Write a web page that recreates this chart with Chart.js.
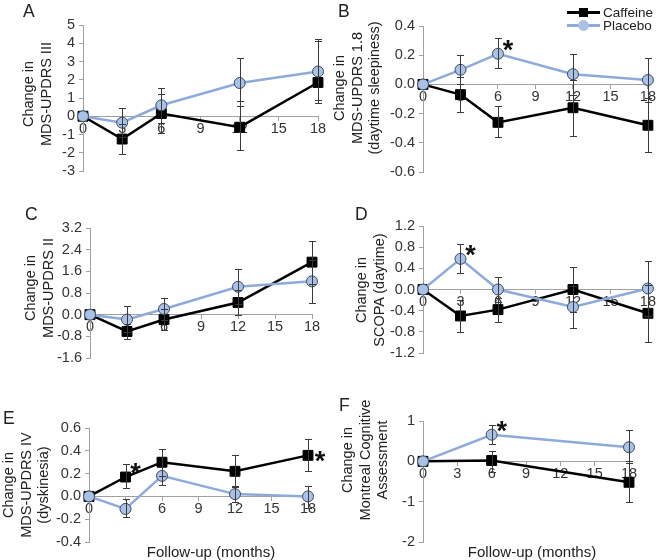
<!DOCTYPE html>
<html>
<head>
<meta charset="utf-8">
<script src="https://cdn.jsdelivr.net/npm/chart.js@4.4.0/dist/chart.umd.min.js"></script>
<style>
  body { margin: 0; background: #fff; }
  #fig { position: relative; width: 656px; height: 560px; font-family: "Liberation Sans", Arial, sans-serif; color: #222; }
  #fig canvas { position: absolute; }
  .lbl { position: absolute; font-size: 17.5px; line-height: 17px; }
  .ytitle { position: absolute; font-size: 14.5px; line-height: 17.5px; text-align: center; white-space: nowrap;
            transform: translate(-50%, -50%) rotate(-90deg); }
  .xtitle { position: absolute; font-size: 15px; white-space: nowrap; transform: translate(-50%, -50%); }
  .legend { position: absolute; left: 567px; top: 6px; font-size: 13.5px; }
  .row { position: relative; height: 13px; }
  .row .ln { position: absolute; left: 0; top: 5px; width: 33px; height: 2.5px; }
  .row .mk { position: absolute; }
  .row span { position: absolute; left: 36px; top: -1px; white-space: nowrap; }
</style>
</head>
<body>
<div id="fig">
  <canvas id="cA"></canvas><canvas id="cB"></canvas>
  <canvas id="cC"></canvas><canvas id="cD"></canvas>
  <canvas id="cE"></canvas><canvas id="cF"></canvas>

  <div class="lbl" style="left:23px;top:3px">A</div>
  <div class="lbl" style="left:338px;top:3px">B</div>
  <div class="lbl" style="left:25px;top:206px">C</div>
  <div class="lbl" style="left:355px;top:206px">D</div>
  <div class="lbl" style="left:3px;top:410px">E</div>
  <div class="lbl" style="left:339px;top:397px">F</div>

  <div class="ytitle" style="left:36.5px;top:94px">Change in<br>MDS-UPDRS III</div>
  <div class="ytitle" style="left:357px;top:88px">Change in<br>MDS-UPDRS 1.8<br>(daytime sleepiness)</div>
  <div class="ytitle" style="left:38.5px;top:288px">Change in<br>MDS-UPDRS II</div>
  <div class="ytitle" style="left:370px;top:290px">Change in<br>SCOPA (daytime)</div>
  <div class="ytitle" style="left:25.5px;top:485px">Change in<br>MDS-UPDRS IV<br>(dyskinesia)</div>
  <div class="ytitle" style="left:364.5px;top:460px">Change in<br>Montreal Cognitive<br>Assessment</div>

  <div class="xtitle" style="left:211px;top:551px">Follow-up (months)</div>
  <div class="xtitle" style="left:532px;top:551px">Follow-up (months)</div>

  <div class="legend">
    <div class="row"><div class="ln" style="background:#000"></div>
      <div class="mk" style="left:12px;top:2px;width:9px;height:9px;background:#000"></div><span>Caffeine</span></div>
    <div class="row"><div class="ln" style="background:#8eaadb"></div>
      <div class="mk" style="left:11px;top:1px;width:9px;height:9px;border-radius:50%;background:#a9c1e4;border:1px solid #a9c1e4"></div><span>Placebo</span></div>
  </div>
</div>

<script>
// follow-up visits
const months = [0, 3, 6, 12, 18];
const monthsF = [0, 6, 18];

// A: MDS-UPDRS III
const cafA = [0, -1.25, 0.15, -0.6, 1.85];
const cafLoA = [0, -2.05, -0.9, -1.87, 0.9];
const cafHiA = [0, -0.45, 1.2, 0.81, 4.1];
const plaA = [0, -0.35, 0.6, 1.82, 2.45];
const plaLoA = [0, -1.15, -0.35, 0.54, 0.75];
const plaHiA = [0, 0.45, 1.55, 3.18, 4.25];

// B: MDS-UPDRS 1.8 (daytime sleepiness)
const cafB = [0, -0.07, -0.26, -0.16, -0.28];
const cafLoB = [0, -0.19, -0.36, -0.35, -0.46];
const cafHiB = [0, 0.05, -0.15, 0.03, -0.09];
const plaB = [0, 0.10, 0.21, 0.07, 0.03];
const plaLoB = [0, 0.0, 0.11, -0.07, -0.12];
const plaHiB = [0, 0.20, 0.32, 0.21, 0.18];

// C: MDS-UPDRS II
const cafC = [0, -0.62, -0.18, 0.45, 1.94];
const cafLoC = [0, -0.88, -0.55, 0.0, 1.15];
const cafHiC = [0, -0.35, 0.2, 0.9, 2.73];
const plaC = [0, -0.18, 0.21, 1.03, 1.23];
const plaLoC = [0, -0.65, -0.2, 0.38, 0.43];
const plaHiC = [0, 0.31, 0.62, 1.69, 2.03];

// D: SCOPA (daytime)
const cafD = [0, -0.5, -0.38, 0.0, -0.45];
const cafLoD = [0, -0.81, -0.61, -0.42, -0.99];
const cafHiD = [0, -0.2, -0.16, 0.42, 0.09];
const plaD = [0, 0.58, 0.0, -0.33, 0.02];
const plaLoD = [0, 0.32, -0.23, -0.72, -0.5];
const plaHiD = [0, 0.86, 0.23, 0.06, 0.54];

// E: MDS-UPDRS IV (dyskinesia)
const cafE = [0, 0.17, 0.30, 0.22, 0.36];
const cafLoE = [0, 0.07, 0.18, 0.08, 0.22];
const cafHiE = [0, 0.28, 0.42, 0.36, 0.50];
const plaE = [0, -0.11, 0.18, 0.02, 0.0];
const plaLoE = [0, -0.18, 0.10, -0.05, -0.10];
const plaHiE = [0, -0.02, 0.26, 0.09, 0.09];

// F: Montreal Cognitive Assessment
const cafF = [0, 0.02, -0.52];
const cafLoF = [0, -0.27, -1.02];
const cafHiF = [0, 0.25, 0.0];
const plaF = [0, 0.66, 0.35];
const plaLoF = [0, 0.42, -0.05];
const plaHiF = [0, 0.89, 0.77];

// significance marks (at which point, star above-right or to the right)
const starsB = [{ x: 6, y: 0.21, at: 'above' }];
const starsD = [{ x: 3, y: 0.58, at: 'above' }];
const starsE = [{ x: 3, y: 0.17, at: 'above' }, { x: 18, y: 0.36, at: 'right' }];
const starsF = [{ x: 6, y: 0.66, at: 'above' }];

const FONT = '"Liberation Sans", Arial, sans-serif';
const AXIS = '#a0a0a0';
const TICK_FONT = { family: FONT, size: 14.5 };

// error bars drawn from dataset.errLo / errHi
const errorBars = {
  id: 'errorBars',
  afterDatasetsDraw(chart) {
    const { ctx, scales: { x, y } } = chart;
    ctx.save();
    ctx.strokeStyle = '#3a3a3a';
    ctx.lineWidth = 1;
    chart.data.datasets.forEach(ds => {
      ds.data.forEach((p, i) => {
        const lo = ds.errLo[i], hi = ds.errHi[i];
        if (lo === hi) return;
        const px = Math.round(x.getPixelForValue(p.x)) + 0.5;
        const y1 = Math.round(y.getPixelForValue(hi)) + 0.5;
        const y2 = Math.round(y.getPixelForValue(lo)) + 0.5;
        ctx.beginPath();
        ctx.moveTo(px, y1); ctx.lineTo(px, y2);
        ctx.moveTo(px - 3.5, y1); ctx.lineTo(px + 3.5, y1);
        ctx.moveTo(px - 3.5, y2); ctx.lineTo(px + 3.5, y2);
        ctx.stroke();
      });
    });
    ctx.restore();
  }
};

function starMarks(stars) {
  return {
    id: 'stars',
    afterDraw(chart) {
      const { ctx, scales: { x, y } } = chart;
      ctx.save();
      ctx.fillStyle = '#111';
      ctx.font = 'bold 27px ' + FONT;
      ctx.textAlign = 'center';
      ctx.textBaseline = 'alphabetic';
      stars.forEach(s => {
        let px = x.getPixelForValue(s.x), py = y.getPixelForValue(s.y);
        if (s.at === 'above') { px += 10; py -= 10; } else { px += 12; }
        ctx.fillText('*', px, py + 15);
      });
      ctx.restore();
    }
  };
}

function makePanel(id, box, xs, caf, cafLo, cafHi, pla, plaLo, plaHi, ax, stars) {
  const cv = document.getElementById(id);
  cv.width = box.w; cv.height = box.h;
  cv.style.left = box.left + 'px';
  cv.style.top = box.top + 'px';
  const pts = arr => xs.map((x, i) => ({ x: x, y: arr[i] }));
  new Chart(cv, {
    type: 'line',
    data: {
      datasets: [
        {
          label: 'Placebo', data: pts(pla), errLo: plaLo, errHi: plaHi, order: 0,
          borderColor: '#8eaadb', borderWidth: 2.5, pointStyle: 'circle', pointRadius: 5.5,
          pointBackgroundColor: '#a9c1e4', pointBorderColor: '#3c4a66', pointBorderWidth: 1, clip: false
        },
        {
          label: 'Caffeine', data: pts(caf), errLo: cafLo, errHi: cafHi, order: 1,
          borderColor: '#000', borderWidth: 2.5, pointStyle: 'rect', pointRadius: 7,
          pointBackgroundColor: '#000', pointBorderColor: '#000', pointBorderWidth: 1, clip: false
        }
      ]
    },
    options: {
      responsive: false,
      animation: false,
      layout: {
        padding: {
          left: 0,
          top: box.at - box.top,
          right: box.left + box.w - box.ar,
          bottom: box.top + box.h - box.ab
        }
      },
      plugins: { legend: { display: false }, tooltip: { enabled: false } },
      scales: {
        x: {
          type: 'linear', position: { y: 0 }, min: 0, max: 18,
          ticks: { stepSize: 3, autoSkip: false, color: '#333', font: TICK_FONT, padding: 0, maxRotation: 0 },
          grid: { drawOnChartArea: false, drawTicks: true, tickLength: 4, color: AXIS },
          border: { color: AXIS }
        },
        y: {
          type: 'linear', min: ax.min, max: ax.max,
          ticks: {
            stepSize: ax.step, autoSkip: false, color: '#333', font: TICK_FONT, padding: 4,
            callback: v => v.toFixed(ax.dec)
          },
          grid: { drawOnChartArea: false, drawTicks: true, tickLength: 4, color: AXIS },
          border: { color: AXIS },
          afterFit: s => { s.width = box.al - box.left; }
        }
      }
    },
    plugins: [errorBars, starMarks(stars)]
  });
}

makePanel('cA', { left: 0, top: 0, w: 328, h: 185, al: 83, ar: 318, at: 25, ab: 171 },
  months, cafA, cafLoA, cafHiA, plaA, plaLoA, plaHiA, { min: -3, max: 5, step: 1, dec: 0 }, []);
makePanel('cB', { left: 328, top: 0, w: 328, h: 185, al: 423, ar: 648, at: 26, ab: 172 },
  months, cafB, cafLoB, cafHiB, plaB, plaLoB, plaHiB, { min: -0.6, max: 0.4, step: 0.2, dec: 1 }, starsB);
makePanel('cC', { left: 0, top: 185, w: 328, h: 190, al: 90, ar: 312, at: 228, ab: 358 },
  months, cafC, cafLoC, cafHiC, plaC, plaLoC, plaHiC, { min: -1.6, max: 3.2, step: 0.8, dec: 1 }, []);
makePanel('cD', { left: 328, top: 185, w: 328, h: 190, al: 423, ar: 648, at: 226, ab: 353 },
  months, cafD, cafLoD, cafHiD, plaD, plaLoD, plaHiD, { min: -1.2, max: 1.2, step: 0.4, dec: 1 }, starsD);
makePanel('cE', { left: 0, top: 375, w: 328, h: 185, al: 89, ar: 308, at: 428, ab: 542 },
  months, cafE, cafLoE, cafHiE, plaE, plaLoE, plaHiE, { min: -0.4, max: 0.6, step: 0.2, dec: 1 }, starsE);
makePanel('cF', { left: 328, top: 375, w: 328, h: 185, al: 423, ar: 629, at: 421, ab: 542 },
  monthsF, cafF, cafLoF, cafHiF, plaF, plaLoF, plaHiF, { min: -2, max: 1, step: 1, dec: 0 }, starsF);
</script>
</body>
</html>
